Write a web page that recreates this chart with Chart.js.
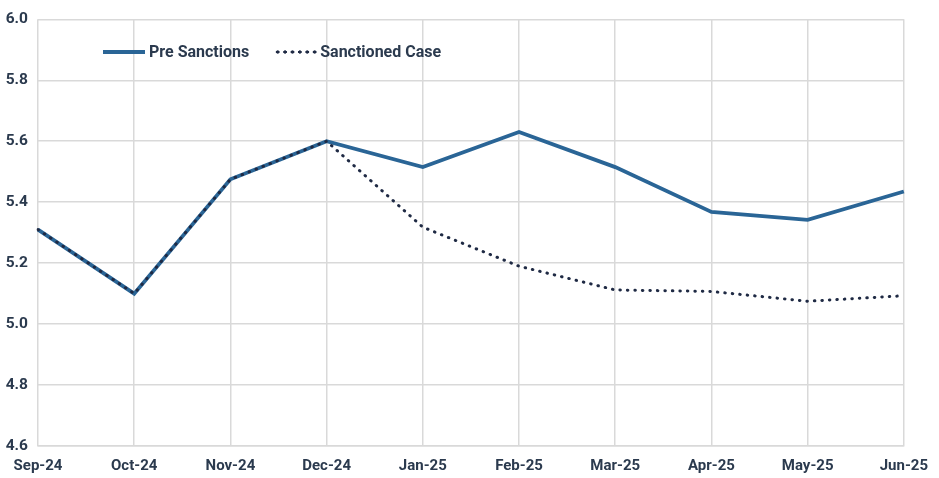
<!DOCTYPE html>
<html>
<head>
<meta charset="utf-8">
<script src="https://cdn.jsdelivr.net/npm/chart.js@4.4.0/dist/chart.umd.min.js"></script>
<style>
  html, body { margin: 0; padding: 0; background: #fff; }
  #wrap { position: relative; width: 939px; height: 478px; }
  #legend { position: absolute; left: 103px; top: 42px; display: flex; align-items: center;
    font: bold 16px Roboto, sans-serif; color: #2b3a4e; }
  .item { display: flex; align-items: center; }
  .item + .item { margin-left: 25px; }
  .solid { width: 42px; height: 4px; background: #2a6596; margin-right: 4px; }
  .dots { width: 44px; height: 4px; margin-right: 2px;
    background-image: radial-gradient(circle, #1f2a44 1.5px, transparent 1.7px);
    background-size: 7.4px 4px; background-repeat: repeat-x; }
</style>
</head>
<body>
<div id="wrap">
  <canvas id="chart" width="939" height="478"></canvas>
  <div id="legend">
    <div class="item"><span class="solid"></span>Pre Sanctions</div>
    <div class="item"><span class="dots"></span>Sanctioned Case</div>
  </div>
</div>
<script>
const months = ['Sep-24', 'Oct-24', 'Nov-24', 'Dec-24', 'Jan-25', 'Feb-25', 'Mar-25', 'Apr-25', 'May-25', 'Jun-25'];
const preSanctions = [5.31, 5.10, 5.475, 5.60, 5.515, 5.63, 5.515, 5.368, 5.342, 5.435];
const sanctionedCase = [5.31, 5.10, 5.475, 5.60, 5.318, 5.19, 5.112, 5.107, 5.075, 5.093];
const yTicks = [4.6, 4.8, 5.0, 5.2, 5.4, 5.6, 5.8, 6.0];

const textColor = '#2b3a4e';
const gridColor = '#d9d9d9';

new Chart(document.getElementById('chart'), {
  type: 'line',
  data: {
    labels: months,
    datasets: [
      {
        label: 'Sanctioned Case',
        data: sanctionedCase,
        borderColor: '#1f2a44',
        borderWidth: 3,
        borderDash: [0.5, 7],
        borderCapStyle: 'round',
        pointRadius: 0,
        tension: 0,
        order: 1
      },
      {
        label: 'Pre Sanctions',
        data: preSanctions,
        borderColor: '#2a6596',
        borderWidth: 3.8,
        pointRadius: 0,
        tension: 0,
        order: 2
      }
    ]
  },
  options: {
    responsive: false,
    animation: false,
    layout: { padding: { top: 16, right: 35, left: 0, bottom: 0 }, autoPadding: false },
    plugins: { legend: { display: false }, tooltip: { enabled: false } },
    scales: {
      x: {
        offset: false,
        grid: { color: gridColor, lineWidth: 1.5, drawTicks: false },
        border: { color: gridColor, width: 1.5 },
        ticks: { color: textColor, font: { family: 'Roboto', size: 15, weight: 'bold' }, padding: 11, maxRotation: 0 },
        afterFit: s => { s.height = 32; }
      },
      y: {
        min: 4.6,
        max: 6.0,
        afterBuildTicks: s => { s.ticks = yTicks.map(v => ({ value: v })); },
        grid: { color: gridColor, lineWidth: 1.5, drawTicks: false },
        border: { display: false },
        ticks: {
          color: textColor,
          font: { family: 'Roboto', size: 15.5, weight: 'bold' },
          padding: 10,
          callback: v => v.toFixed(1)
        },
        afterFit: s => { s.width = 38; }
      }
    }
  }
});
</script>
</body>
</html>
